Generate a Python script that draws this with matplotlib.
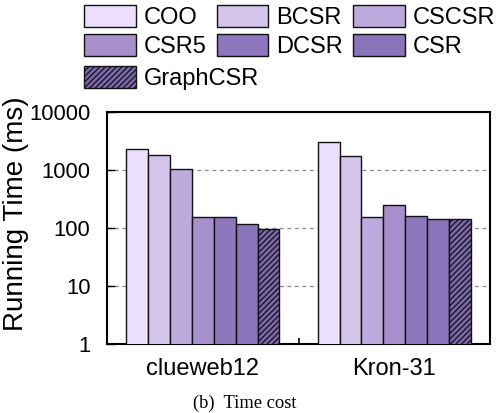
import matplotlib
matplotlib.use("Agg")
import matplotlib.pyplot as plt
import numpy as np

plt.rcParams['font.family'] = ['Liberation Sans', 'DejaVu Sans']
plt.rcParams['hatch.linewidth'] = 0.9

datasets = ["clueweb12", "Kron-31"]
formats = ["COO", "BCSR", "CSCSR", "CSR5", "DCSR", "CSR", "GraphCSR"]
times = {
    "COO":      [2300, 3000],
    "BCSR":     [1830, 1730],
    "CSCSR":    [1030, 156],
    "CSR5":     [153, 250],
    "DCSR":     [155, 161],
    "CSR":      [117, 144],
    "GraphCSR": [97, 143],
}
colors = ["#ebdffd", "#d3c4ea", "#bcaadc", "#a68fcb", "#8e77bd", "#8a74b9", "#7b67ae"]
yticks = [1, 10, 100, 1000, 10000]
ytick_labels = ["1", "10", "100", "1000", "10000"]

fig = plt.figure(figsize=(4.98, 4.13), dpi=100)
ax = fig.add_axes([0.215, 0.167, 0.769, 0.562])

x = np.arange(len(datasets))
n = len(formats)
w = 0.8 / n
handles = {}
for i, f in enumerate(formats):
    hatch = "//////" if f == "GraphCSR" else None
    b = ax.bar(x + (i - (n - 1) / 2) * w, times[f], width=w, color=colors[i],
               edgecolor="#111111", linewidth=1.0, hatch=hatch, label=f, zorder=3)
    handles[f] = b

ax.set_yscale("log")
ax.set_ylim(1, 10000)
ax.set_xlim(-0.5, 1.5)
ax.set_yticks(yticks)
ax.set_yticklabels(ytick_labels, fontsize=15.8)
ax.yaxis.set_minor_locator(matplotlib.ticker.NullLocator())
ax.set_xticks(x)
ax.set_xticklabels(datasets, fontsize=17)
ax.set_xticks([0.5], minor=True)
ax.tick_params(axis="x", which="major", direction="in", length=9, width=1.2, pad=10)
ax.tick_params(axis="x", which="minor", direction="in", length=4, width=1.2)
ax.tick_params(axis="y", direction="in", length=6, width=1.0, pad=12)
ax.grid(axis="y", which="major", linestyle=(0, (3, 3)), color="#888888", linewidth=0.9, zorder=0)
for s in ax.spines.values():
    s.set_linewidth(1.5)
ax.set_ylabel("Running Time (ms)", fontsize=20)
ax.yaxis.set_label_coords(-0.204, 0.56)

fs = 17
common = dict(frameon=False, fontsize=fs, handlelength=2.2, handleheight=1.05,
              handletextpad=0.34, columnspacing=0.41, labelspacing=0.22,
              borderpad=0.0, borderaxespad=0.0, loc="upper left")
first = ["COO", "CSR5", "BCSR", "DCSR", "CSCSR", "CSR"]
leg1 = fig.legend(handles=[handles[f] for f in first], labels=first, ncol=3,
                  bbox_to_anchor=(84 / 498, 1 - 5 / 413), **common)
leg2 = fig.legend(handles=[handles["GraphCSR"]], labels=["GraphCSR"], ncol=1,
                  bbox_to_anchor=(84 / 498, 1 - 66 / 413), **common)

fig.text(0.492, 0.024, "(b)  Time cost", ha="center", va="center",
         fontsize=13.3, family=["Liberation Serif", "DejaVu Serif"])

fig.savefig("out.png", dpi=100)
